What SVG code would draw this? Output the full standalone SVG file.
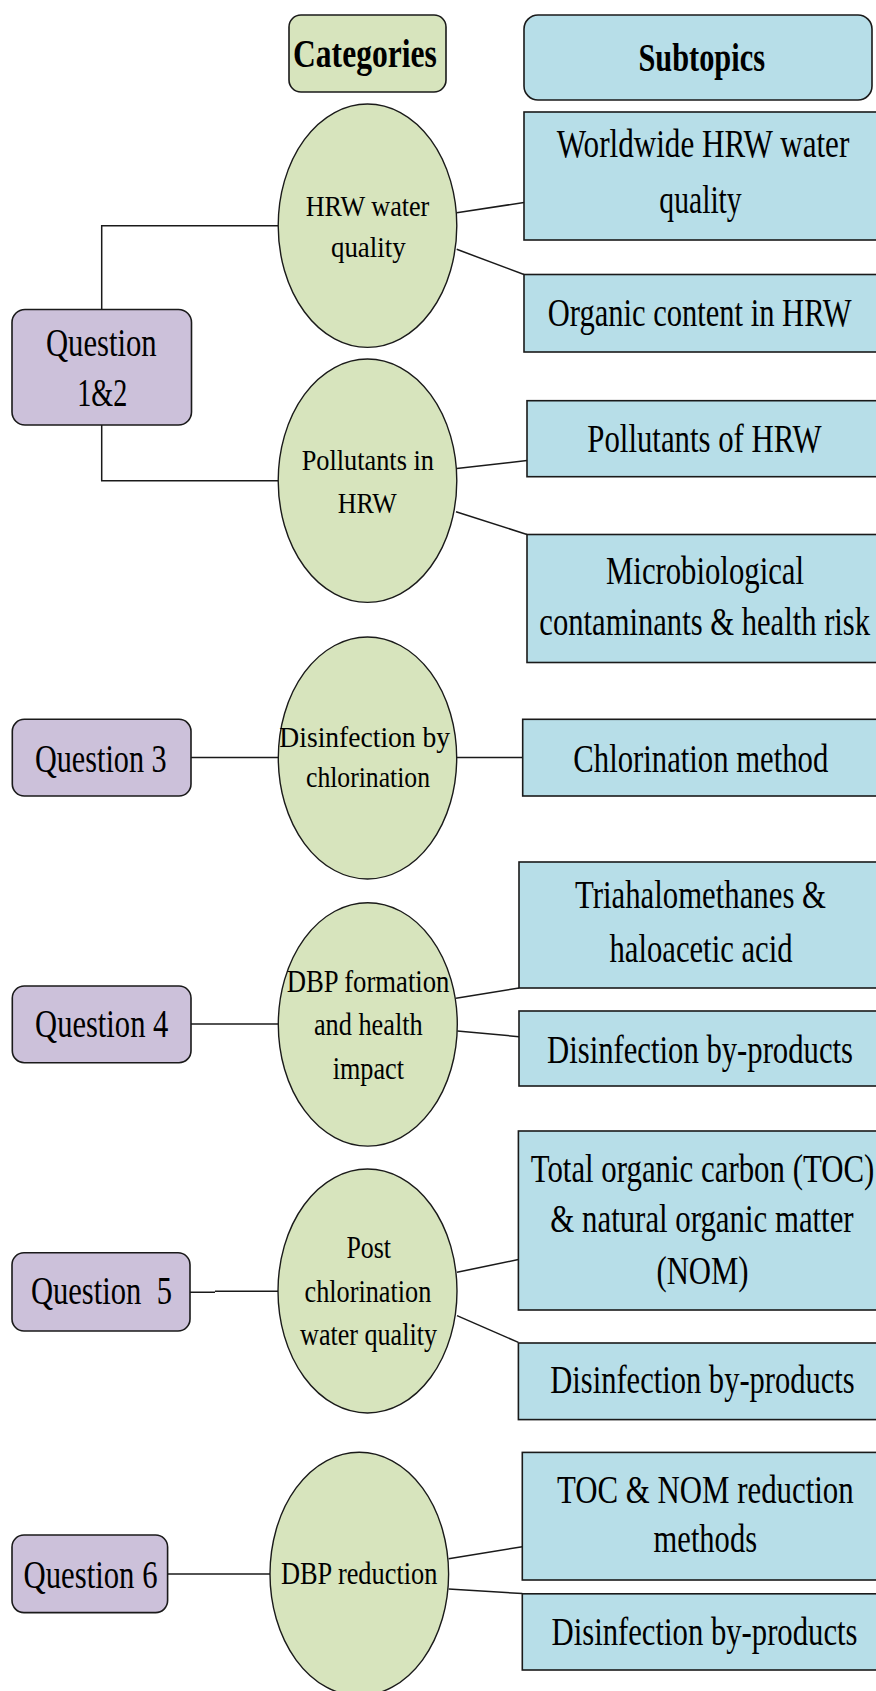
<svg xmlns="http://www.w3.org/2000/svg" width="876" height="1691" viewBox="0 0 876 1691">
<style>
.bg{fill:#ffffff}
.q{fill:#CCC1DA;stroke:#1a1a1a;stroke-width:1.6}
.cat{fill:#D7E4BD;stroke:#1a1a1a;stroke-width:1.6}
.sub{fill:#B7DEE8;stroke:#1a1a1a;stroke-width:1.6}
.ell{fill:#D7E4BD;stroke:#1a1a1a;stroke-width:1.4}
.con{fill:none;stroke:#1a1a1a;stroke-width:1.5}
text{font-family:"Liberation Serif","Times New Roman",serif;fill:#000;text-anchor:middle}
.h{font-size:40px;font-weight:bold}
.t{font-size:39px}
</style>
<rect class="bg" x="0" y="0" width="876" height="1691"/>
<g id="connectors">
<path class="con" d="M101.7 309.5V225.7H278.2"/>
<path class="con" d="M101.7 425V480.7H278.2"/>
<path class="con" d="M456.7 212.7L524 202.5"/>
<path class="con" d="M456.7 249.3L524 274.5"/>
<path class="con" d="M456.7 468.5L527 460.5"/>
<path class="con" d="M456 511.7L527 534.5"/>
<path class="con" d="M191 757.5H278.3"/>
<path class="con" d="M456.7 757.5H522.7"/>
<path class="con" d="M191 1024H278.3"/>
<path class="con" d="M456 998.3L519 988"/>
<path class="con" d="M457.3 1031L519 1036.7"/>
<path class="con" d="M190 1292.2H215M215 1291.2H278"/>
<path class="con" d="M457 1272.3L518.4 1259.5"/>
<path class="con" d="M457 1315.6L518.4 1342.4"/>
<path class="con" d="M167.6 1574H270"/>
<path class="con" d="M448.6 1558.7L522.3 1546.7"/>
<path class="con" d="M448.6 1589L522.3 1593.5"/>
</g>
<g id="categories">
<rect class="cat" x="289" y="15" width="157" height="77" rx="12"/>
<text class="h" transform="translate(364.9 66.7) scale(0.79 1)" textLength="181.9" lengthAdjust="spacingAndGlyphs">Categories</text>
</g>
<g id="subtopics">
<rect class="sub" x="524" y="15" width="348" height="85" rx="14"/>
<text class="h" transform="translate(701.7 70.7) scale(0.79 1)" textLength="160.1" lengthAdjust="spacingAndGlyphs">Subtopics</text>
</g>
<g id="q12">
<rect class="q" x="12" y="309.5" width="179.5" height="115.5" rx="13"/>
<text class="t" transform="translate(101.3 356) scale(0.8 1)" textLength="138.4" lengthAdjust="spacingAndGlyphs">Question</text>
<text class="t" transform="translate(102.3 406) scale(0.8 1)" textLength="62.5" lengthAdjust="spacingAndGlyphs">1&amp;2</text>
</g>
<g id="q3">
<rect class="q" x="12.3" y="719.3" width="178.7" height="76.7" rx="12"/>
<text class="t" transform="translate(100.8 771.7) scale(0.8 1)" textLength="164.6" lengthAdjust="spacingAndGlyphs">Question 3</text>
</g>
<g id="q4">
<rect class="q" x="12.3" y="986" width="178.7" height="76.7" rx="12"/>
<text class="t" transform="translate(101.7 1036.7) scale(0.8 1)" textLength="166.6" lengthAdjust="spacingAndGlyphs">Question 4</text>
</g>
<g id="q5">
<rect class="q" x="12" y="1252.7" width="178" height="78.3" rx="12"/>
<text class="t" transform="translate(101.4 1303.5) scale(0.8 1)" textLength="176.3" lengthAdjust="spacingAndGlyphs" xml:space="preserve">Question  5</text>
</g>
<g id="q6">
<rect class="q" x="12" y="1535" width="155.6" height="77.6" rx="12"/>
<text class="t" transform="translate(90.5 1588) scale(0.8 1)" textLength="167.5" lengthAdjust="spacingAndGlyphs">Question 6</text>
</g>
<g id="e1">
<ellipse class="ell" cx="367.5" cy="225.7" rx="89.3" ry="121.7"/>
<text font-size="30" transform="translate(367.5 215.7) scale(0.9 1)" textLength="137.4" lengthAdjust="spacingAndGlyphs">HRW water</text>
<text font-size="30" transform="translate(368.3 256.7) scale(0.9 1)" textLength="83" lengthAdjust="spacingAndGlyphs">quality</text>
</g>
<g id="e2">
<ellipse class="ell" cx="367.5" cy="480.7" rx="89.3" ry="121.7"/>
<text font-size="30" transform="translate(367.8 470) scale(0.9 1)" textLength="147" lengthAdjust="spacingAndGlyphs">Pollutants in</text>
<text font-size="30" transform="translate(367.2 513.3) scale(0.9 1)" textLength="65.6" lengthAdjust="spacingAndGlyphs">HRW</text>
</g>
<g id="e3">
<ellipse class="ell" cx="367.5" cy="758" rx="89.2" ry="121"/>
<text font-size="30" transform="translate(364.7 747.3) scale(0.9 1)" textLength="189.7" lengthAdjust="spacingAndGlyphs">Disinfection by</text>
<text font-size="30" transform="translate(368 786.7) scale(0.9 1)" textLength="137.8" lengthAdjust="spacingAndGlyphs">chlorination</text>
</g>
<g id="e4">
<ellipse class="ell" cx="367.8" cy="1024.4" rx="89.5" ry="121.7"/>
<text font-size="32" transform="translate(368 992.3) scale(0.9 1)" textLength="180.8" lengthAdjust="spacingAndGlyphs">DBP formation</text>
<text font-size="32" transform="translate(368.3 1035) scale(0.9 1)" textLength="120.8" lengthAdjust="spacingAndGlyphs">and health</text>
<text font-size="32" transform="translate(368.3 1079.3) scale(0.9 1)" textLength="79.2" lengthAdjust="spacingAndGlyphs">impact</text>
</g>
<g id="e5">
<ellipse class="ell" cx="367.5" cy="1291" rx="89.5" ry="122"/>
<text font-size="31" transform="translate(368.7 1258.3) scale(0.9 1)" textLength="49.6" lengthAdjust="spacingAndGlyphs">Post</text>
<text font-size="31" transform="translate(367.9 1301.7) scale(0.9 1)" textLength="140.9" lengthAdjust="spacingAndGlyphs">chlorination</text>
<text font-size="31" transform="translate(368.5 1345) scale(0.9 1)" textLength="152.1" lengthAdjust="spacingAndGlyphs">water quality</text>
</g>
<g id="e6">
<ellipse class="ell" cx="359.3" cy="1574" rx="89.3" ry="121.7"/>
<text font-size="31" transform="translate(359.2 1583.6) scale(0.9 1)" textLength="173.8" lengthAdjust="spacingAndGlyphs">DBP reduction</text>
</g>
<g id="s-worldwide">
<rect class="sub" x="524" y="112" width="353" height="128"/>
<text class="t" transform="translate(703 157.3) scale(0.78 1)" textLength="375.1" lengthAdjust="spacingAndGlyphs">Worldwide HRW water</text>
<text class="t" transform="translate(700.5 213) scale(0.78 1)" textLength="105.6" lengthAdjust="spacingAndGlyphs">quality</text>
</g>
<g id="s-organic">
<rect class="sub" x="524" y="274.5" width="353" height="77.5"/>
<text class="t" transform="translate(699.7 325.7) scale(0.78 1)" textLength="389.7" lengthAdjust="spacingAndGlyphs">Organic content in HRW</text>
</g>
<g id="s-pollutants">
<rect class="sub" x="527" y="400.7" width="350" height="76"/>
<text class="t" transform="translate(704.5 451.7) scale(0.78 1)" textLength="300.5" lengthAdjust="spacingAndGlyphs">Pollutants of HRW</text>
</g>
<g id="s-micro">
<rect class="sub" x="527" y="534.5" width="350" height="128"/>
<text class="t" transform="translate(705 584) scale(0.78 1)" textLength="253.8" lengthAdjust="spacingAndGlyphs">Microbiological</text>
<text class="t" transform="translate(704.7 635) scale(0.78 1)" textLength="424" lengthAdjust="spacingAndGlyphs">contaminants &amp; health risk</text>
</g>
<g id="s-chlorination">
<rect class="sub" x="522.7" y="719.3" width="354.3" height="76.7"/>
<text class="t" transform="translate(700.8 771.7) scale(0.78 1)" textLength="326.9" lengthAdjust="spacingAndGlyphs">Chlorination method</text>
</g>
<g id="s-thm">
<rect class="sub" x="519" y="862" width="358" height="126"/>
<text class="t" transform="translate(700.5 908) scale(0.78 1)" textLength="321.8" lengthAdjust="spacingAndGlyphs">Triahalomethanes &amp;</text>
<text class="t" transform="translate(701 962) scale(0.78 1)" textLength="234.6" lengthAdjust="spacingAndGlyphs">haloacetic acid</text>
</g>
<g id="s-dbp4">
<rect class="sub" x="519" y="1011" width="358" height="75"/>
<text class="t" transform="translate(700 1063) scale(0.78 1)" textLength="392.3" lengthAdjust="spacingAndGlyphs">Disinfection by-products</text>
</g>
<g id="s-toc">
<rect class="sub" x="518.4" y="1131" width="358.6" height="179"/>
<text class="t" transform="translate(702.5 1182.2) scale(0.78 1)" textLength="440.5" lengthAdjust="spacingAndGlyphs">Total organic carbon (TOC)</text>
<text class="t" transform="translate(702 1232) scale(0.78 1)" textLength="388.8" lengthAdjust="spacingAndGlyphs">&amp; natural organic matter</text>
<text class="t" transform="translate(702.5 1283.6) scale(0.78 1)" textLength="118.2" lengthAdjust="spacingAndGlyphs">(NOM)</text>
</g>
<g id="s-dbp5">
<rect class="sub" x="518.4" y="1343" width="358.6" height="76.6"/>
<text class="t" transform="translate(702.5 1393.3) scale(0.78 1)" textLength="390.3" lengthAdjust="spacingAndGlyphs">Disinfection by-products</text>
</g>
<g id="s-tocnom">
<rect class="sub" x="522.3" y="1452.4" width="354.7" height="127.6"/>
<text class="t" transform="translate(705.3 1503.3) scale(0.78 1)" textLength="380.3" lengthAdjust="spacingAndGlyphs">TOC &amp; NOM reduction</text>
<text class="t" transform="translate(705.3 1552.3) scale(0.78 1)" textLength="132.6" lengthAdjust="spacingAndGlyphs">methods</text>
</g>
<g id="s-dbp6">
<rect class="sub" x="522.3" y="1593.8" width="354.7" height="76.2"/>
<text class="t" transform="translate(704.5 1644.7) scale(0.78 1)" textLength="392.3" lengthAdjust="spacingAndGlyphs">Disinfection by-products</text>
</g>
</svg>
